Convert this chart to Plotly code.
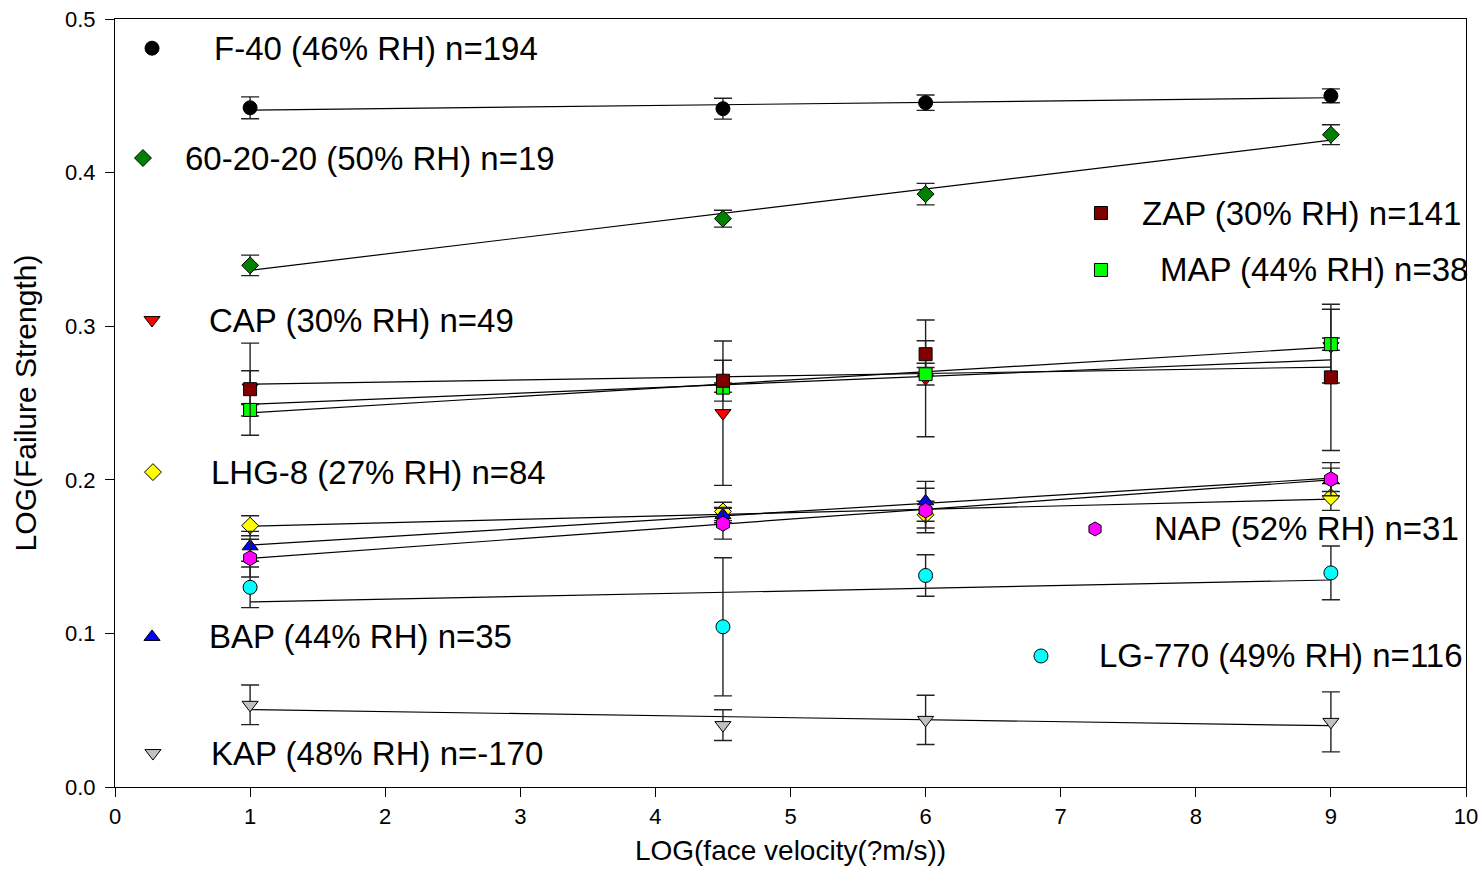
import numpy as np
import plotly.graph_objects as go

# ---------------- data ----------------
x_vals = [1, 4.5, 6, 9]

series_names = ["F-40 (46% RH) n=194", "60-20-20 (50% RH) n=19", "CAP (30% RH) n=49",
                "MAP (44% RH) n=38", "ZAP (30% RH) n=141", "LHG-8 (27% RH) n=84",
                "BAP (44% RH) n=35", "NAP (52% RH) n=31", "LG-770 (49% RH) n=116",
                "KAP (48% RH) n=-170"]

f40_y = [0.4422, 0.4416, 0.4455, 0.4500]
f40_err = [0.0071, 0.0068, 0.0050, 0.0045]
s602020_y = [0.3396, 0.3700, 0.3860, 0.4247]
s602020_err = [0.0067, 0.0055, 0.0070, 0.0065]
cap_y = [0.2600, 0.2434, 0.2660, 0.2870]
cap_err = [0.0110, 0.0470, 0.0380, 0.0240]
map_y = [0.2455, 0.2600, 0.2688, 0.2883]
map_err = [0.0040, 0.0030, 0.0071, 0.0040]
zap_y = [0.2590, 0.2645, 0.2818, 0.2667]
zap_err = [0.0300, 0.0133, 0.0087, 0.0476]
lhg8_y = [0.1701, 0.1794, 0.1773, 0.1888]
lhg8_err = [0.0065, 0.0060, 0.0087, 0.0087]
bap_y = [0.1567, 0.1770, 0.1860, 0.2000]
bap_err = [0.0097, 0.0050, 0.0130, 0.0076]
nap_y = [0.1490, 0.1714, 0.1800, 0.2004]
nap_err = [0.0123, 0.0100, 0.0145, 0.0108]
lg770_y = [0.1300, 0.1043, 0.1377, 0.1394]
lg770_err = [0.0132, 0.0450, 0.0135, 0.0175]
kap_y = [0.0535, 0.0403, 0.0437, 0.0424]
kap_err = [0.0129, 0.0100, 0.0160, 0.0195]

x_ticks = [0, 1, 2, 3, 4, 5, 6, 7, 8, 9, 10]
y_ticks = [0.0, 0.1, 0.2, 0.3, 0.4, 0.5]

# ---------------- styles ----------------
all_y = [f40_y, s602020_y, cap_y, map_y, zap_y, lhg8_y, bap_y, nap_y, lg770_y, kap_y]
all_err = [f40_err, s602020_err, cap_err, map_err, zap_err, lhg8_err, bap_err, nap_err,
           lg770_err, kap_err]
colors = ["#000000", "#008000", "#FF0000", "#00FF00", "#800000", "#FFFF00", "#0000FF",
          "#FF00FF", "#00FFFF", "#C0C0C0"]
symbols = ["circle", "diamond", "triangle-down", "square", "square", "diamond",
           "triangle-up", "hexagon", "circle", "triangle-down"]
sizes = [14, 13, 14, 13, 13, 13, 14, 15, 14, 14]
legend_sizes = [14, 13, 14, 13, 13, 13, 14, 14, 14, 14]
# in-plot legend placement (marker x, text x, y) in data units
legend_pos = [(0.274, 0.718, 0.481), (0.207, 0.503, 0.4095), (0.274, 0.681, 0.304),
              (7.298, 7.720, 0.3366), (7.298, 7.587, 0.3737), (0.281, 0.696, 0.205),
              (0.274, 0.681, 0.0977), (7.254, 7.676, 0.168), (6.854, 7.269, 0.0853),
              (0.281, 0.696, 0.0221)]

font_family = "Liberation Sans, Arial, sans-serif"
fig = go.Figure()

# regression lines
for ys in all_y:
    slope, icpt = np.polyfit(x_vals, ys, 1)
    xs = [x_vals[0], x_vals[-1]]
    fig.add_trace(go.Scatter(x=xs, y=[icpt + slope * v for v in xs], mode="lines",
                             line=dict(color="black", width=1.2), showlegend=False,
                             hoverinfo="skip"))

# data points with error bars
for i, (ys, es) in enumerate(zip(all_y, all_err)):
    fig.add_trace(go.Scatter(
        x=x_vals, y=ys, mode="markers", name=series_names[i], showlegend=False,
        marker=dict(symbol=symbols[i], size=sizes[i], color=colors[i],
                    line=dict(color="black", width=1)),
        error_y=dict(type="data", array=es, visible=True, color="#222222",
                     thickness=1.4, width=9)))

# in-plot legend
annotations = []
for i, (mx, tx, ly) in enumerate(legend_pos):
    fig.add_trace(go.Scatter(
        x=[mx], y=[ly], mode="markers", showlegend=False, hoverinfo="skip",
        marker=dict(symbol=symbols[i], size=legend_sizes[i], color=colors[i],
                    line=dict(color="black", width=1))))
    annotations.append(dict(x=tx, y=ly, xref="x", yref="y", text=series_names[i],
                            showarrow=False, xanchor="left", yanchor="middle",
                            font=dict(size=33, color="black", family=font_family)))

fig.update_layout(
    width=1482, height=895,
    margin=dict(l=115, r=16, t=19, b=108),
    paper_bgcolor="white", plot_bgcolor="white",
    font=dict(family=font_family, color="black"),
    annotations=annotations,
    xaxis=dict(range=[0, 10], tickvals=x_ticks, ticktext=[str(t) for t in x_ticks],
               automargin=False,
               ticks="outside", ticklen=9, tickwidth=1.2, tickcolor="black",
               showline=True, linecolor="black", linewidth=1.2, mirror=True,
               showgrid=False, zeroline=False, tickfont=dict(size=22),
               title=dict(text="LOG(face velocity(?m/s))", font=dict(size=28), standoff=12)),
    yaxis=dict(range=[0, 0.5], tickvals=y_ticks, ticktext=[f"{t:.1f}" for t in y_ticks],
               automargin=False, ticklabelstandoff=5,
               ticks="outside", ticklen=9, tickwidth=1.2, tickcolor="black",
               showline=True, linecolor="black", linewidth=1.2, mirror=True,
               showgrid=False, zeroline=False, tickfont=dict(size=22),
               title=dict(text="LOG(Failure Strength)", font=dict(size=30), standoff=19)),
)

fig.write_html("out.html", config={"displayModeBar": False},
               post_script="document.body.style.margin='0';")
